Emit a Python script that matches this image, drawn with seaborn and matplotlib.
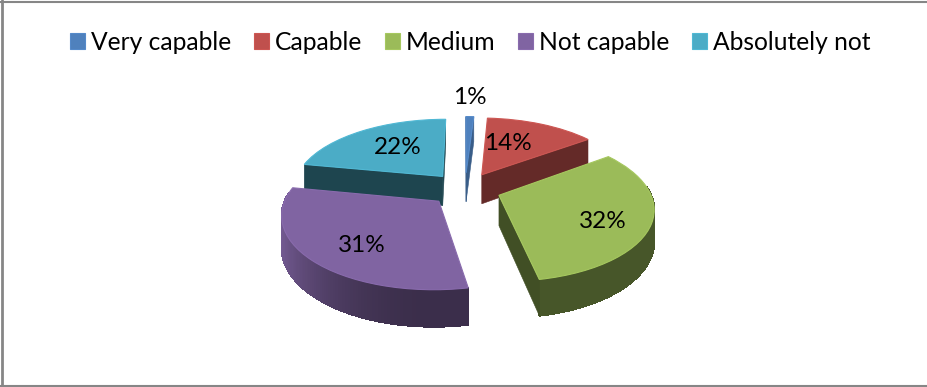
import numpy as np
import matplotlib
matplotlib.use("Agg")
import matplotlib.pyplot as plt
import seaborn as sns
from matplotlib.transforms import Transform
from matplotlib.colors import to_rgb

categories = ["Very capable", "Capable", "Medium", "Not capable", "Absolutely not"]
values = [1, 14, 32, 31, 22]
hex_colors = ["#4F81BD", "#C0504D", "#9BBB59", "#8064A2", "#4BACC6"]
cut_shades = [0.72, 0.52, 0.42, 0.45, 0.40]

sns.set_theme(style="white")
plt.rcParams["font.family"] = ["Lato", "DejaVu Sans"]
palette = sns.color_palette(hex_colors)

W, H = 927, 387
CX, CY, A, B, K, DROP = 465.0, 189.0, 150.0, 70.0, 0.16, 30.0


def project(pts):
    pts = np.asarray(pts, float)
    w = 1 + K * pts[..., 1]
    return np.stack([CX + A * pts[..., 0] / w, CY - B * pts[..., 1] / w], axis=-1)


class Perspective(Transform):
    input_dims = 2
    output_dims = 2
    is_separable = False
    has_inverse = False

    def transform_non_affine(self, values):
        return project(values)


def drop(pts):
    pts = np.asarray(pts, float)
    s = project(pts)
    s[..., 1] += DROP / (1 + K * pts[..., 1])
    return s


def shaded(c, f):
    return tuple(np.clip(np.array(to_rgb(c)) * f, 0, 1))


fig = plt.figure(figsize=(W / 100, H / 100), dpi=100)
ax = fig.add_axes([0, 0, 1, 1])
explode = [0.24] * len(values)
wedges, _, autotexts = ax.pie(
    values, colors=palette, explode=explode, startangle=90, counterclock=False,
    autopct="%.0f%%", frame=True, textprops={"fontsize": 17.5, "color": "#000000"},
)
ax.set_aspect("auto")
ax.set_xlim(0, W)
ax.set_ylim(H, 0)
ax.set_xticks([])
ax.set_yticks([])
for s in ax.spines.values():
    s.set_visible(False)

order = [2, 1, 3, 3, 1]
persp = Perspective()
for w, col, z, cs in zip(wedges, palette, order, cut_shades):
    w.set_transform(persp + ax.transData)
    w.set_zorder(z + 0.5)
    w.set_linewidth(0.8)
    w.set_edgecolor(tuple(np.clip(np.array(to_rgb(col)) * 1.07, 0, 1)))
    c = np.array(w.center)
    t = np.radians(np.linspace(w.theta1, w.theta2, max(int(w.theta2 - w.theta1), 2) + 1))
    rim = c + np.stack([np.cos(t), np.sin(t)], axis=1)
    # rim strips, lit from the left
    for i in range(len(t) - 1):
        p = rim[i:i + 2]
        tm = (t[i] + t[i + 1]) / 2
        if np.sin(tm) > 0.12:
            continue
        lit = max(0.0, -np.cos(tm))
        f = 0.46 + 0.48 * lit ** 2.0
        q = np.vstack([project(p), drop(p)[::-1]])
        ax.fill(q[:, 0], q[:, 1], color=shaded(col, f), lw=0.8, antialiased=False, zorder=z)
    # radial cut faces
    apex_s = project(c)
    mid = project(rim[len(rim) // 2]) - apex_s
    for corner in (rim[0], rim[-1]):
        e = project(corner) - apex_s
        if (e[0] * mid[1] - e[1] * mid[0]) * e[0] < 0:
            q = np.vstack([project(np.array([c, corner])), drop(np.array([corner, c]))])
            ax.fill(q[:, 0], q[:, 1], color=shaded(col, cs), lw=0.4, zorder=z + 0.2)

label_xy = [(470, 97), (508, 143), (603, 222), (362, 245), (398, 147)]
for txt, (x, y) in zip(autotexts, label_xy):
    txt.set_position((x, y))
    txt.set_zorder(10)

ax.legend(
    wedges, categories, loc="center", bbox_to_anchor=(470 / W, 1 - 42.5 / H), ncol=5,
    frameon=False, fontsize=17.7, handlelength=0.61, handleheight=0.61,
    handletextpad=0.24, columnspacing=0.92, borderpad=0, labelcolor="#000000",
)

for kw in ({"y": 2}, {"y": 386}):
    ax.axhline(color="#868686", lw=1.5, **kw)
ax.axvline(2, color="#868686", lw=2)

fig.savefig("out.png", dpi=100)
